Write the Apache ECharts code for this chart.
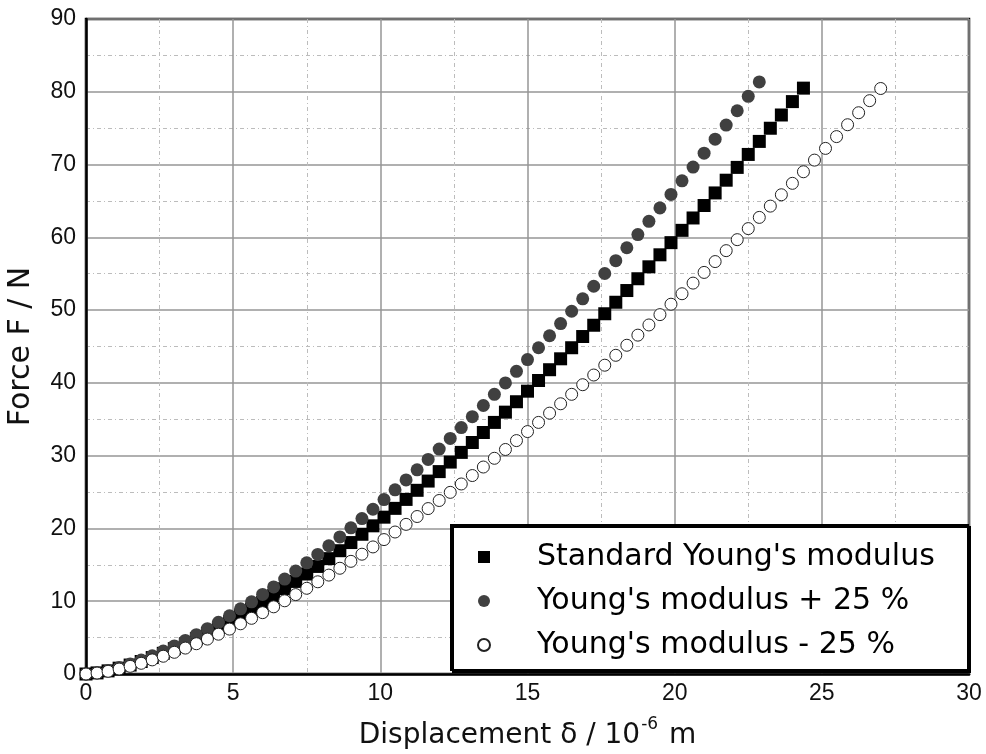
<!DOCTYPE html>
<html>
<head>
<meta charset="utf-8">
<script src="https://cdn.jsdelivr.net/npm/echarts@6/dist/echarts.min.js"></script>
<style>html,body{margin:0;padding:0;background:#fff}#c{width:986px;height:754px}</style>
</head>
<body>
<div id="c"></div>
<script>
const seriesNames = ["Standard Young's modulus", "Young's modulus + 25 %", "Young's modulus - 25 %"];
const xTicks = [0, 5, 10, 15, 20, 25, 30];
const yTicks = [0, 10, 20, 30, 40, 50, 60, 70, 80, 90];
const displacement = [0, 0.375, 0.75, 1.125, 1.5, 1.875, 2.25, 2.625, 3, 3.375, 3.75, 4.125, 4.5, 4.875, 5.25, 5.625, 6, 6.375, 6.75, 7.125, 7.5, 7.875, 8.25, 8.625, 9, 9.375, 9.75, 10.125, 10.5, 10.875, 11.25, 11.625, 12, 12.375, 12.75, 13.125, 13.5, 13.875, 14.25, 14.625, 15, 15.375, 15.75, 16.125, 16.5, 16.875, 17.25, 17.625, 18, 18.375, 18.75, 19.125, 19.5, 19.875, 20.25, 20.625, 21, 21.375, 21.75, 22.125, 22.5, 22.875, 23.25, 23.625, 24, 24.375, 24.75, 25.125, 25.5, 25.875, 26.25, 26.625, 27];
const forceStandard = [0, 0.15, 0.43, 0.80, 1.23, 1.72, 2.26, 2.84, 3.48, 4.15, 4.86, 5.60, 6.39, 7.20, 8.05, 8.92, 9.83, 10.77, 11.73, 12.72, 13.74, 14.78, 15.85, 16.94, 18.06, 19.20, 20.36, 21.55, 22.76, 23.99, 25.24, 26.51, 27.81, 29.12, 30.45, 31.81, 33.18, 34.57, 35.98, 37.41, 38.86, 40.33, 41.81, 43.31, 44.83, 46.37, 47.92, 49.50, 51.08, 52.69, 54.31, 55.95, 57.60, 59.27, 60.96, 62.66, 64.37, 66.10, 67.85, 69.61, 71.39, 73.18, 74.99, 76.81, 78.65, 80.50];
const forcePlus = [0, 0.17, 0.48, 0.89, 1.37, 1.91, 2.51, 3.16, 3.86, 4.61, 5.40, 6.23, 7.10, 8.00, 8.95, 9.92, 10.93, 11.97, 13.04, 14.14, 15.27, 16.43, 17.62, 18.84, 20.08, 21.35, 22.64, 23.96, 25.30, 26.67, 28.06, 29.48, 30.91, 32.37, 33.86, 35.36, 36.89, 38.43, 40.00, 41.59, 43.20, 44.83, 46.48, 48.15, 49.84, 51.55, 53.28, 55.03, 56.79, 58.57, 60.38, 62.20, 64.04, 65.89, 67.76, 69.66, 71.56, 73.49, 75.43, 77.39, 79.37, 81.36];
const forceMinus = [0, 0.13, 0.37, 0.68, 1.05, 1.47, 1.94, 2.44, 2.98, 3.56, 4.16, 4.80, 5.47, 6.17, 6.90, 7.65, 8.43, 9.23, 10.06, 10.91, 11.78, 12.67, 13.59, 14.53, 15.48, 16.46, 17.46, 18.47, 19.51, 20.56, 21.64, 22.73, 23.84, 24.96, 26.11, 27.27, 28.44, 29.64, 30.85, 32.07, 33.31, 34.57, 35.84, 37.13, 38.43, 39.75, 41.08, 42.43, 43.79, 45.17, 46.56, 47.96, 49.38, 50.81, 52.25, 53.71, 55.18, 56.67, 58.17, 59.68, 61.20, 62.74, 64.29, 65.85, 67.42, 69.01, 70.61, 72.22, 73.84, 75.47, 77.12, 78.78, 80.45];

function pairs(ys) { return ys.map((y, i) => [displacement[i], y]); }

const chart = echarts.init(document.getElementById('c'), null, { renderer: 'canvas' });
const FONT = '"Liberation Sans", Arial, sans-serif';
const TFONT = '"DejaVu Sans", sans-serif';
const minorLine = { show: true, lineStyle: { color: '#bcbcbc', width: 1, type: [4, 3, 1, 3] } };
const majorLine = { show: true, lineStyle: { color: '#969696', width: 1.5, type: 'solid' } };

chart.setOption({
  backgroundColor: '#ffffff',
  animation: false,
  grid: { left: 86, right: 17, top: 19, bottom: 80, containLabel: false, outerBoundsMode: 'none', show: true, borderColor: '#000', borderWidth: 2.5, backgroundColor: 'transparent' },
  xAxis: {
    type: 'value', min: xTicks[0], max: xTicks[xTicks.length - 1], interval: 5,
    axisLine: { show: true, lineStyle: { color: '#000', width: 2.5 } },
    axisTick: { show: false },
    minorTick: { show: false, splitNumber: 2 },
    splitLine: majorLine,
    minorSplitLine: minorLine,
    axisLabel: { color: '#111', fontFamily: FONT, fontSize: 23, margin: 8 },
    name: '{a|Displacement δ / 10}{s|-6}{a| m}',
    nameLocation: 'middle', nameGap: 42,
    nameTextStyle: {
      rich: {
        a: { fontFamily: TFONT, fontSize: 28, color: '#111', lineHeight: 34, verticalAlign: 'bottom' },
        s: { fontFamily: TFONT, fontSize: 17, color: '#111', lineHeight: 34, verticalAlign: 'top', padding: [0, 2, 0, 1] }
      }
    }
  },
  yAxis: {
    type: 'value', min: yTicks[0], max: yTicks[yTicks.length - 1], interval: 10,
    axisLine: { show: true, lineStyle: { color: '#000', width: 2.5 } },
    axisTick: { show: false },
    minorTick: { show: false, splitNumber: 2 },
    splitLine: majorLine,
    minorSplitLine: minorLine,
    axisLabel: { color: '#111', fontFamily: FONT, fontSize: 23, margin: 10 },
    name: 'Force F / N', nameLocation: 'middle', nameGap: 50, nameRotate: 90,
    nameTextStyle: { fontFamily: TFONT, fontSize: 30, color: '#111' }
  },
  graphic: [{
    type: 'rect', z: 50, left: 450, top: 524,
    shape: { width: 517, height: 145 },
    style: { fill: '#fff', stroke: '#000', lineWidth: 2, shadowColor: '#000', shadowOffsetX: 2, shadowOffsetY: 2, shadowBlur: 0.1 }
  }],
  legend: {
    z: 60, orient: 'vertical', left: 472, top: 536,
    itemWidth: 12, itemHeight: 12, itemGap: 12,
    data: seriesNames,
    textStyle: { fontFamily: TFONT, fontSize: 30, color: '#000', lineHeight: 32, padding: [0, 0, 0, 42] }
  },
  series: [
    { name: seriesNames[0], type: 'scatter', symbol: 'rect', symbolSize: 13, data: pairs(forceStandard), itemStyle: { color: '#000', opacity: 1 }, z: 3 },
    { name: seriesNames[1], type: 'scatter', symbol: 'circle', symbolSize: 13, data: pairs(forcePlus), itemStyle: { color: '#404040', opacity: 1 }, z: 4 },
    { name: seriesNames[2], type: 'scatter', symbol: 'circle', symbolSize: 12, data: pairs(forceMinus), itemStyle: { color: '#fff', borderColor: '#222', borderWidth: 1, opacity: 1 }, z: 5 }
  ]
});
</script>
</body>
</html>
